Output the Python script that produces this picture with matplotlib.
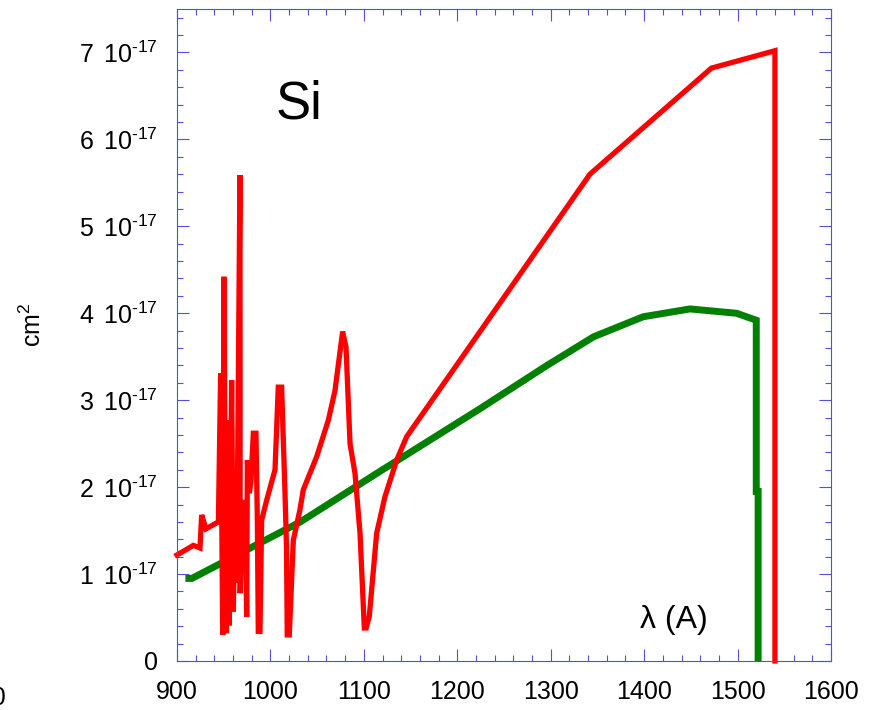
import numpy as np
import matplotlib.pyplot as plt
from matplotlib.ticker import MultipleLocator, FuncFormatter

plt.rcParams['font.family'] = ['Liberation Sans', 'DejaVu Sans']
plt.rcParams['mathtext.fontset'] = 'custom'
plt.rcParams['mathtext.rm'] = 'Liberation Sans'
plt.rcParams['mathtext.it'] = 'Liberation Sans:italic'

# cross sections, in units of 1e-17 cm^2
red_wl = [900, 917.5, 924.6, 926.4, 931, 944.3, 946.7, 948.9, 950.3, 952.4,
          955, 956, 958.5, 960.3, 962, 963.9, 967.4, 967.6, 970, 972.8,
          974.6, 975.3, 977.5, 979.2, 981.7, 984.5, 986, 987, 988.8, 990.6,
          996, 1004.9, 1008.4, 1012, 1015.6, 1017.2, 1018, 1020.2, 1024.5,
          1031.6, 1035.2, 1049.5, 1062, 1069.1, 1077.3, 1080.9, 1085.2,
          1090.5, 1095.9, 1100.5, 1102.5, 1105.8, 1113.7, 1122.6, 1135.1,
          1145.8, 1342, 1472, 1540, 1540]
red_sig = [1.22, 1.33, 1.30, 1.68, 1.52, 1.60, 3.31, 0.30, 4.42, 0.32,
           2.77, 0.41, 3.23, 0.57, 1.85, 0.90, 5.59, 0.78, 1.70, 1.85,
           0.51, 2.31, 1.93, 2.08, 2.62, 2.62, 1.62, 0.34, 0.34, 1.62,
           1.85, 2.20, 3.15, 3.15, 1.93, 1.31, 0.30, 0.30, 1.39,
           1.74, 1.97, 2.35, 2.77, 3.11, 3.79, 3.61, 2.50,
           2.16, 1.47, 0.38, 0.38, 0.51, 1.47, 1.89, 2.31,
           2.58, 5.60, 6.82, 7.02, 0.0]

green_wl = [909, 916, 1032, 1117, 1224, 1296, 1346, 1399, 1449, 1499, 1520,
            1520, 1522, 1522]
green_sig = [0.95, 0.95, 1.60, 2.18, 2.90, 3.40, 3.73, 3.96, 4.05, 4.00, 3.92,
             1.95, 1.95, 0.0]

scale = 1e-17
axcol = '#5050dc'

fig = plt.figure(figsize=(8.69, 7.10), dpi=100)
ax = fig.add_axes([177 / 869, 1 - 661 / 710, 654 / 869, 652 / 710])

ax.plot(green_wl, np.array(green_sig) * scale, color='#008000', lw=5.0,
        solid_joinstyle='miter', solid_capstyle='butt', clip_on=False)
ax.plot(red_wl, np.array(red_sig) * scale, color='#ff0000', lw=3.8,
        solid_joinstyle='miter', solid_capstyle='projecting', clip_on=False)

ax.set_xlim(900, 1600)
ax.set_ylim(0, 7.5 * scale)

ax.xaxis.set_major_locator(MultipleLocator(100))
ax.xaxis.set_minor_locator(MultipleLocator(20))
ax.yaxis.set_major_locator(MultipleLocator(scale))
ax.yaxis.set_minor_locator(MultipleLocator(0.2 * scale))


def ylab(v, pos):
    n = int(round(v / scale))
    if n == 0:
        return '0'
    return '%d $\\,$10$^{\u201017}$' % n


ax.yaxis.set_major_formatter(FuncFormatter(ylab))

ax.tick_params(which='both', direction='in', top=True, right=True,
               color=axcol, width=0.8, labelsize=18, pad=14)
ax.tick_params(which='major', length=8.5)
ax.tick_params(which='minor', length=4.5)
for s in ax.spines.values():
    s.set_color(axcol)
    s.set_linewidth(0.8)

ax.set_ylabel('cm$^2$', fontsize=18)
ax.yaxis.set_label_coords(-0.2, 0.515)

ax.text(1005, 6.24 * scale, 'Si', fontsize=38)
ax.text(1396, 0.38 * scale, 'λ (A)', fontsize=23)

fig.text(6 / 869, 1 - 705 / 710, '1600', fontsize=18, ha='right', va='baseline')

fig.savefig('out.png', dpi=100)
